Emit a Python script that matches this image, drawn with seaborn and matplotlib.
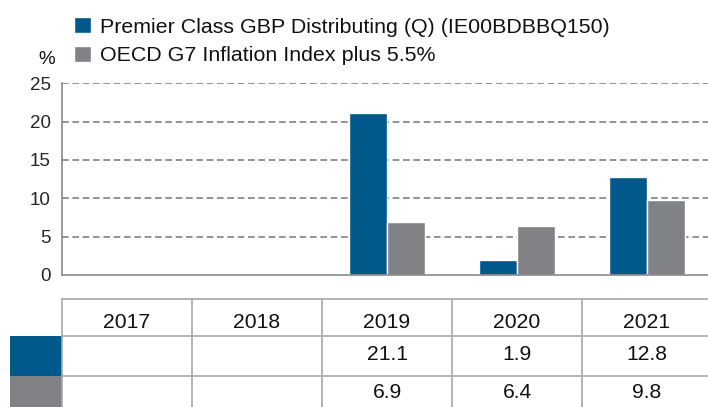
import numpy as np
import pandas as pd
import seaborn as sns
import matplotlib.pyplot as plt
from matplotlib.patches import Rectangle

years = ['2017', '2018', '2019', '2020', '2021']
fund = [np.nan, np.nan, 21.1, 1.9, 12.8]
bench = [np.nan, np.nan, 6.9, 6.4, 9.8]
series_names = ['Premier Class GBP Distributing (Q) (IE00BDBBQ150)',
                'OECD G7 Inflation Index plus 5.5%']
colors = ['#00588B', '#808285']
yticks = [0, 5, 10, 15, 20, 25]

sns.set_style('white')
plt.rcParams['font.family'] = ['Liberation Sans', 'DejaVu Sans']
plt.rcParams['text.color'] = '#111111'

df = pd.DataFrame({
    'year': years * 2,
    'value': fund + bench,
    'series': [series_names[0]] * 5 + [series_names[1]] * 5,
})

W, H = 708, 407
fig = plt.figure(figsize=(W / 100, H / 100), dpi=100)

# main chart, positions in pixels
x0, x1 = 62, 712
ytop, ybot = 83.3, 274.8
ax = fig.add_axes([x0 / W, 1 - ybot / H, (x1 - x0) / W, (ybot - ytop) / H])
sns.barplot(data=df, x='year', y='value', hue='series', order=years,
            hue_order=series_names, palette=colors, width=0.58,
            saturation=1, ax=ax, legend=True)
ax.set_xlim(-0.5, 4.5)
ax.set_ylim(0, 25)
ax.set_yticks(yticks)
ax.set_yticklabels([str(t) for t in yticks], fontsize=13.5)
ax.set_xticks([])
ax.set_xlabel('')
ax.set_ylabel('')
ax.tick_params(axis='y', length=0, pad=8)
for t in yticks[1:]:
    ax.axhline(t, color='#808080', lw=1.2, ls=(0, (4, 2.2)), zorder=0)
for s in ['top', 'right']:
    ax.spines[s].set_visible(False)
for s in ['left', 'bottom']:
    ax.spines[s].set_color('#8a8a8a')
    ax.spines[s].set_linewidth(1.2)

handles, labels = ax.get_legend_handles_labels()
ax.get_legend().remove()
fig.legend(handles, labels, loc='upper left', bbox_to_anchor=(74 / W, 1 - 17 / H),
           frameon=False, fontsize=15.4, handlelength=0.8, handleheight=0.8,
           handletextpad=0.42, labelspacing=0.42, borderpad=0, borderaxespad=0)
fig.text(47 / W, 1 - 59 / H, '%', fontsize=13.5, ha='center', va='center')

# data table under the chart
ttop = 299
rows = [37, 40, 40]
text_y = [23, 56, 94]
tb = ttop + sum(rows)
tx = fig.add_axes([x0 / W, 1 - tb / H, (x1 - x0) / W, (tb - ttop) / H])
tx.set_xlim(-0.5, 4.5)
tx.set_ylim(tb - ttop, 0)
tx.axis('off')
lc = '#a8a8a8'
edges = np.cumsum([0] + rows)
for e in edges[:-1]:
    tx.axhline(e, color=lc, lw=1.2, clip_on=False)
for i in range(len(years)):
    tx.axvline(i - 0.5, color=lc, lw=1.2, clip_on=False)
for i, yr in enumerate(years):
    tx.text(i, text_y[0], yr, ha='center', va='center', fontsize=15.2)
    for r, vals in enumerate([fund, bench]):
        v = vals[i]
        if not np.isnan(v):
            tx.text(i, text_y[r + 1], f'{v:.1f}', ha='center', va='center', fontsize=15.2)
for r, c in enumerate(colors):
    tx.add_patch(Rectangle((-0.5 - 52 / 130, edges[r + 1]), 52 / 130, rows[r + 1],
                           facecolor=c, edgecolor='none', clip_on=False))

fig.savefig('out.png', dpi=100)
